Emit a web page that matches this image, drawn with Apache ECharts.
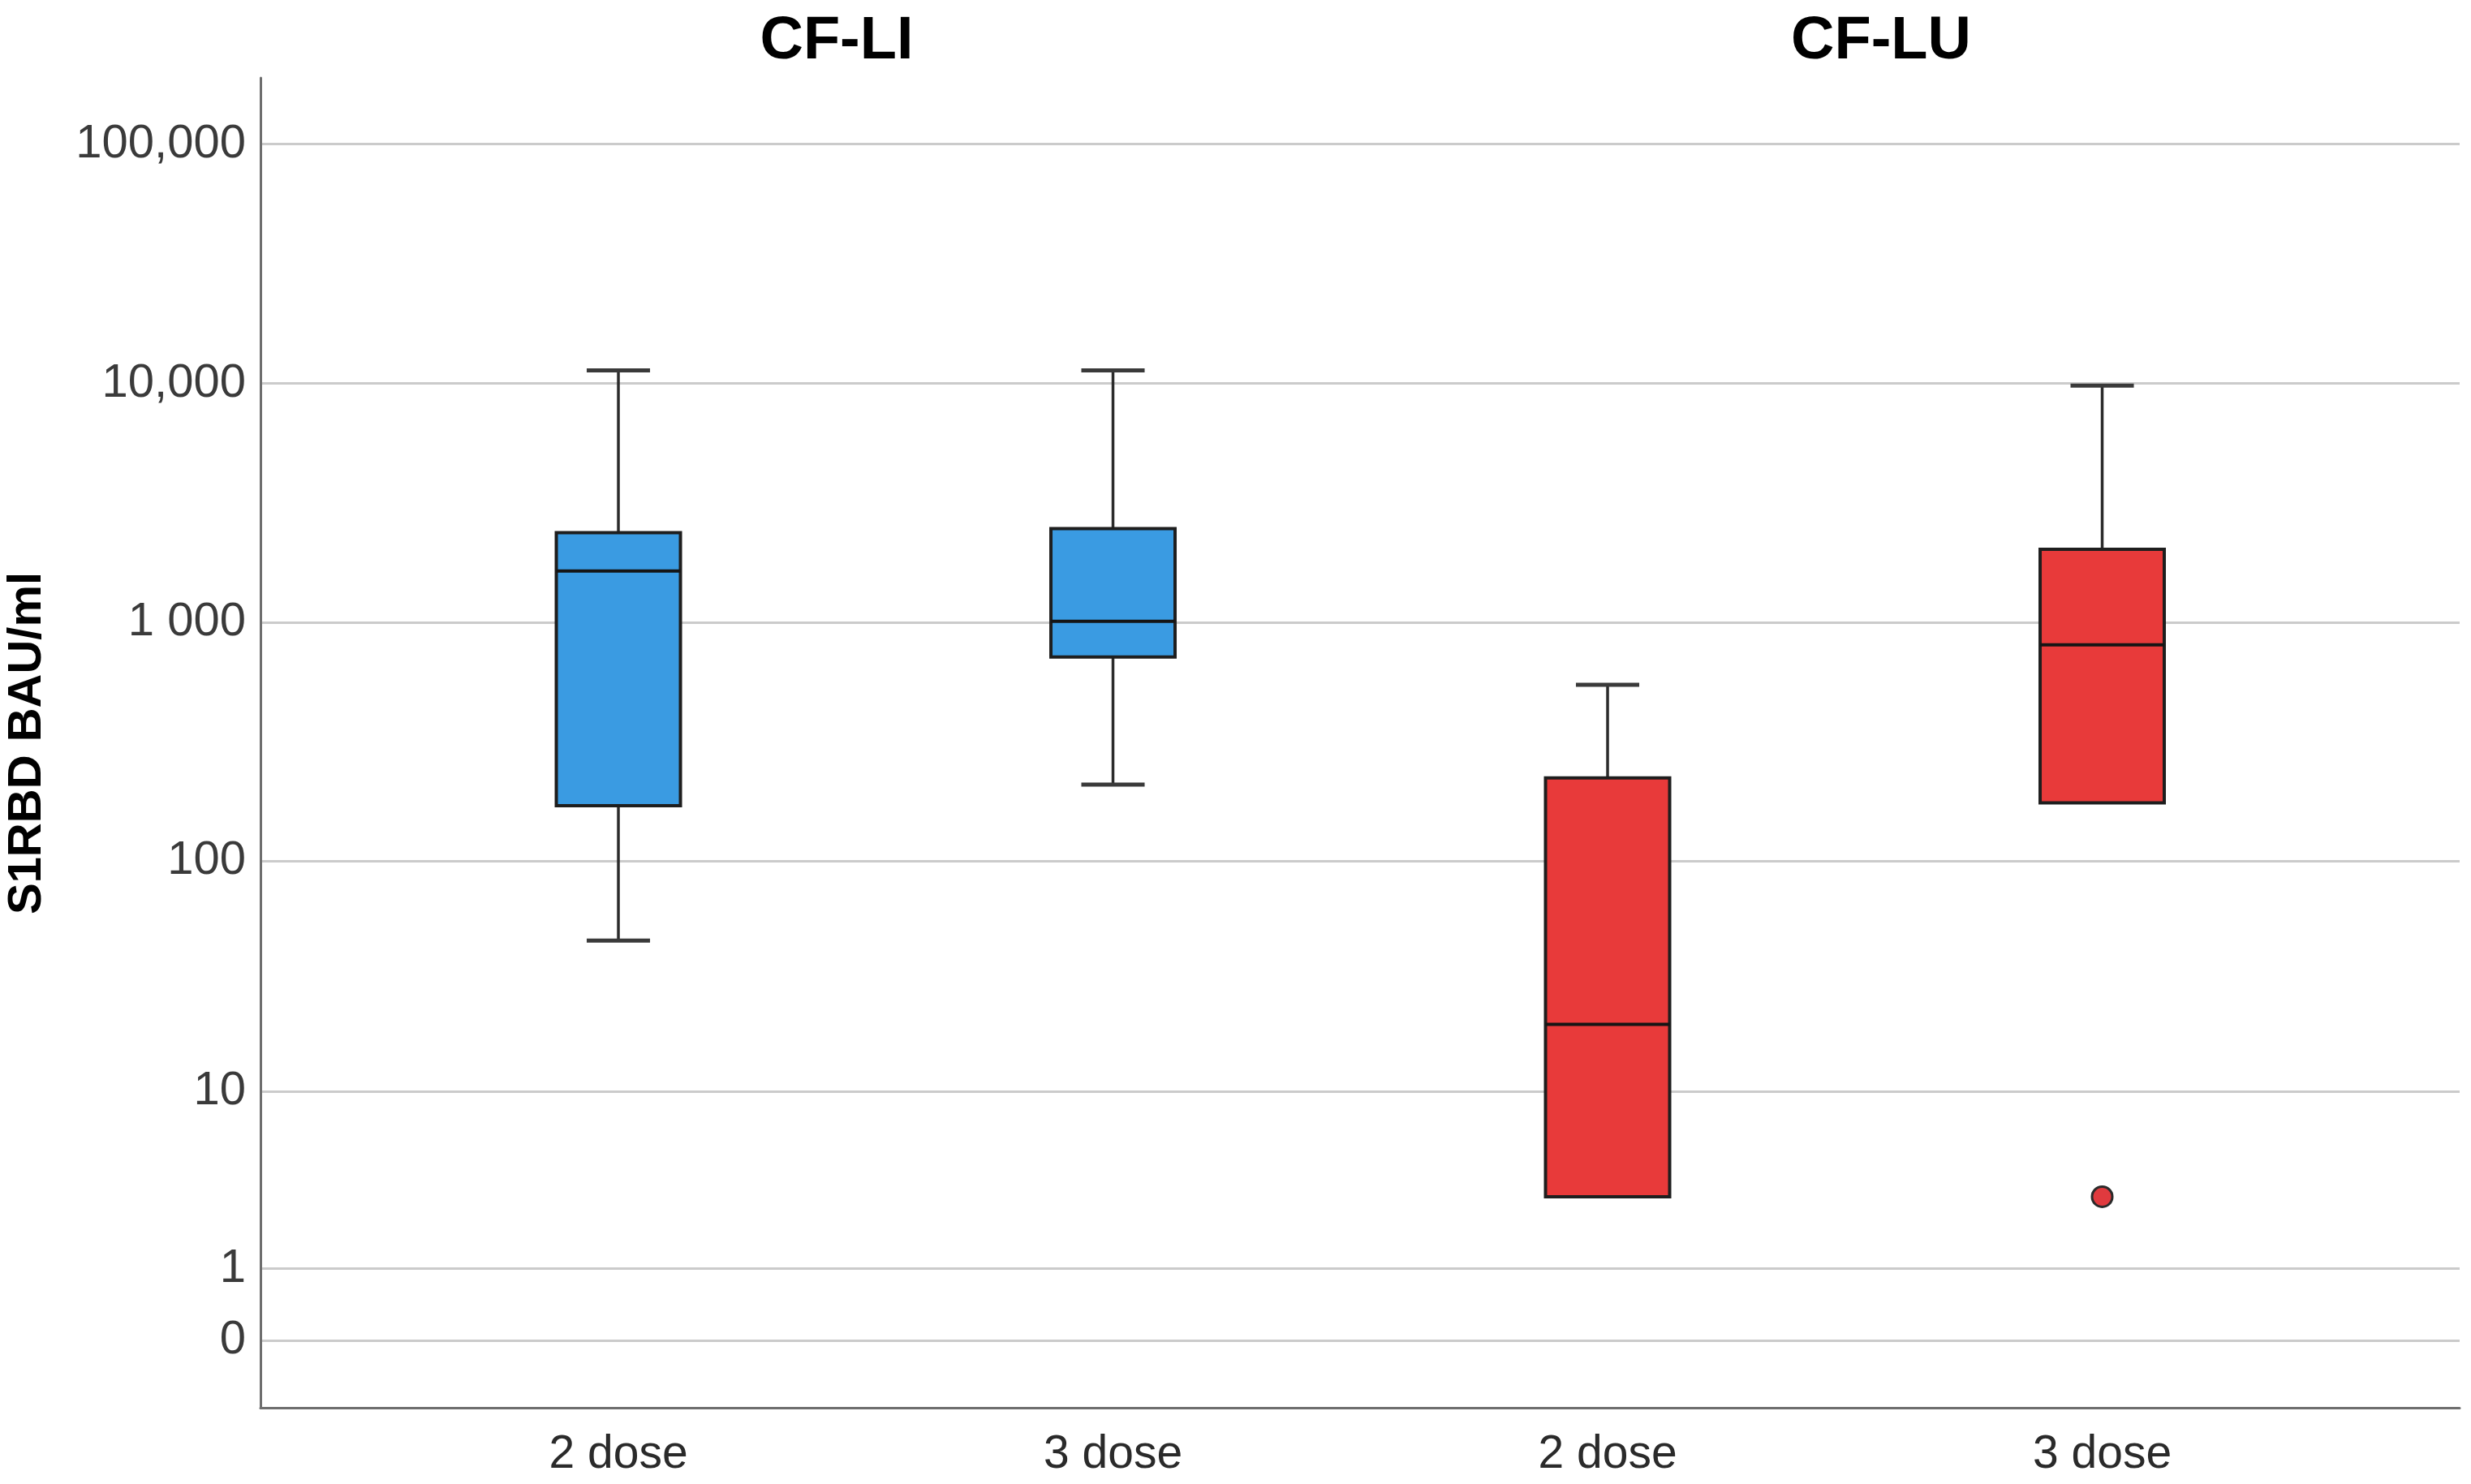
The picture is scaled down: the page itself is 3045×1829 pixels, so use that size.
<!DOCTYPE html>
<html>
<head>
<meta charset="utf-8">
<script src="https://cdn.jsdelivr.net/npm/echarts@6/dist/echarts.min.js"></script>
<style>
html,body{margin:0;padding:0;background:#fff;}
#chart{width:3045px;height:1829px;}
</style>
</head>
<body>
<div id="chart"></div>
<script>
// ---- data (raw BAU/ml values) ----
const categories = ['2 dose', '3 dose', '2 dose', '3 dose'];
const groups = ['CF-LI', 'CF-LI', 'CF-LU', 'CF-LU'];
const whiskerLow = [46, 210, 3.0, 176];
const q1 = [171, 719, 3.0, 176];
const median = [1647, 1013, 20, 808];
const q3 = [2378, 2475, 224, 2028];
const whiskerHigh = [11340, 11340, 550, 9800];
const outliers = [[3, 3.0]]; // [category index, value]
const tickValues = [0, 1, 10, 100, 1000, 10000, 100000];
const tickLabels = ['0', '1', '10', '100', '1 000', '10,000', '100,000'];
const groupColors = { 'CF-LI': '#3A9BE2', 'CF-LU': '#E83A3A' };

// axis scale used by the chart: log10(x + 1)
const tr = v => Math.log10(v + 1);

const boxData = categories.map((c, i) => [i, tr(whiskerLow[i]), tr(q1[i]), tr(median[i]), tr(q3[i]), tr(whiskerHigh[i])]);
const outlierData = outliers.map(o => [o[0], tr(o[1])]);
const tickT = tickValues.map(tr);

const FONT = '"Liberation Sans", Arial, sans-serif';
const chart = echarts.init(document.getElementById('chart'), null, { renderer: 'canvas' });

const BOX_W = 0.251, CAP_W = 0.128;

const option = {
  animation: false,
  backgroundColor: '#ffffff',
  grid: { left: 321, right: 14, top: 96, bottom: 94, containLabel: false },
  xAxis: {
    type: 'value',
    min: -0.7236,
    max: 3.7227,
    axisLine: { show: true, onZero: false, lineStyle: { color: '#6e6e6e', width: 3 } },
    axisTick: { show: false, customValues: [0, 1, 2, 3] },
    splitLine: { show: false },
    axisLabel: {
      customValues: [0, 1, 2, 3],
      formatter: v => categories[Math.round(v)],
      fontFamily: FONT, fontSize: 57, color: '#2a2a2a', margin: 30
    }
  },
  yAxis: {
    type: 'value',
    min: -0.2797,
    max: 5.277,
    axisLine: { show: true, onZero: false, lineStyle: { color: '#6e6e6e', width: 3 } },
    axisTick: { show: false, customValues: tickT },
    splitLine: { show: true, lineStyle: { color: '#cbcbcb', width: 3 } },
    axisLabel: {
      customValues: tickT,
      formatter: v => {
        let best = 0, d = Infinity;
        tickT.forEach((t, i) => { if (Math.abs(t - v) < d) { d = Math.abs(t - v); best = i; } });
        return tickLabels[best];
      },
      fontFamily: FONT, fontSize: 58, color: '#3a3a3a', margin: 18
    }
  },
  graphic: [
    { type: 'text', x: 1031, y: 52, style: { text: 'CF-LI', fontFamily: FONT, fontWeight: 'bold', fontSize: 74, fill: '#000', textAlign: 'center', textVerticalAlign: 'middle' } },
    { type: 'text', x: 2318, y: 52, style: { text: 'CF-LU', fontFamily: FONT, fontWeight: 'bold', fontSize: 74, fill: '#000', textAlign: 'center', textVerticalAlign: 'middle' } },
    { type: 'text', x: 34, y: 916, rotation: Math.PI / 2, style: { text: 'S1RBD BAU/ml', fontFamily: FONT, fontWeight: 'bold', fontSize: 58, fill: '#000', textAlign: 'center', textVerticalAlign: 'middle' } }
  ],
  series: [
    {
      type: 'custom',
      data: boxData,
      encode: { x: 0, y: [1, 2, 3, 4, 5] },
      renderItem: function (params, api) {
        const x = api.value(0);
        const idx = params.dataIndex;
        const color = groupColors[groups[idx]];
        const pLow = api.coord([x, api.value(1)]);
        const pQ1 = api.coord([x, api.value(2)]);
        const pMed = api.coord([x, api.value(3)]);
        const pQ3 = api.coord([x, api.value(4)]);
        const pHigh = api.coord([x, api.value(5)]);
        const halfBox = (api.coord([x + BOX_W / 2, 0])[0] - api.coord([x - BOX_W / 2, 0])[0]) / 2;
        const halfCap = (api.coord([x + CAP_W / 2, 0])[0] - api.coord([x - CAP_W / 2, 0])[0]) / 2;
        const cx = pMed[0];
        const lineStyle = { stroke: '#2b2b2b', lineWidth: 3.5 };
        const children = [];
        if (pHigh[1] < pQ3[1] - 0.5) {
          children.push({ type: 'line', shape: { x1: cx, y1: pQ3[1], x2: cx, y2: pHigh[1] }, style: lineStyle });
          children.push({ type: 'line', shape: { x1: cx - halfCap, y1: pHigh[1], x2: cx + halfCap, y2: pHigh[1] }, style: { stroke: '#3a3a3a', lineWidth: 5 } });
        }
        if (pLow[1] > pQ1[1] + 0.5) {
          children.push({ type: 'line', shape: { x1: cx, y1: pQ1[1], x2: cx, y2: pLow[1] }, style: lineStyle });
          children.push({ type: 'line', shape: { x1: cx - halfCap, y1: pLow[1], x2: cx + halfCap, y2: pLow[1] }, style: { stroke: '#3a3a3a', lineWidth: 5 } });
        }
        children.push({
          type: 'rect',
          shape: { x: cx - halfBox, y: pQ3[1], width: halfBox * 2, height: pQ1[1] - pQ3[1] },
          style: { fill: color, stroke: '#1e1e1e', lineWidth: 4 }
        });
        children.push({ type: 'line', shape: { x1: cx - halfBox, y1: pMed[1], x2: cx + halfBox, y2: pMed[1] }, style: { stroke: '#151515', lineWidth: 4 } });
        return { type: 'group', children: children };
      },
      z: 3
    },
    {
      type: 'scatter',
      data: outlierData,
      symbol: 'circle',
      symbolSize: 25,
      itemStyle: { color: '#E03A3E', opacity: 1, borderColor: '#2b2b2b', borderWidth: 3 },
      z: 4
    }
  ]
};
chart.setOption(option);
</script>
</body>
</html>
